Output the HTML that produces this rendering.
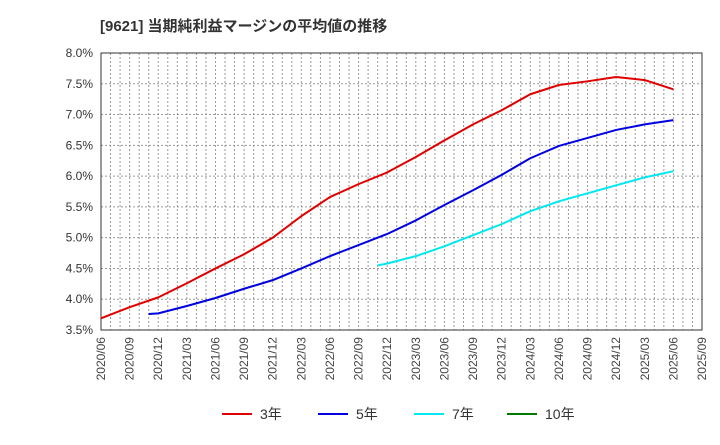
<!DOCTYPE html>
<html><head><meta charset="utf-8"><style>
body{margin:0;background:#fff;font-family:"Liberation Sans","Noto Sans CJK JP",sans-serif;}
</style></head><body>
<svg id="c" width="720" height="440" xmlns="http://www.w3.org/2000/svg">
<text x="100" y="31" font-size="15" font-weight="bold" fill="#333">[9621]  当期純利益マージンの平均値の推移</text>
</svg>
<script>
const months=["2020/06","2020/09","2020/12","2021/03","2021/06","2021/09","2021/12","2022/03","2022/06","2022/09","2022/12","2023/03","2023/06","2023/09","2023/12","2024/03","2024/06","2024/09","2024/12","2025/03","2025/06","2025/09"];
const yTicks=[3.5,4.0,4.5,5.0,5.5,6.0,6.5,7.0,7.5,8.0];
const red3Idx=[0,3,6,9,12,15,18,21,24,27,30,33,36,39,42,45,48,51,54,57,60];
const red3=[3.69,3.87,4.03,4.26,4.5,4.73,5.0,5.35,5.66,5.87,6.06,6.31,6.58,6.84,7.07,7.33,7.48,7.54,7.61,7.56,7.41];
const blue5Idx=[5,6,9,12,15,18,21,24,27,30,33,36,39,42,45,48,51,54,57,60];
const blue5=[3.76,3.77,3.89,4.02,4.17,4.31,4.5,4.7,4.88,5.06,5.28,5.53,5.77,6.02,6.29,6.49,6.62,6.75,6.84,6.91];
const cyan7Idx=[29,30,33,36,39,42,45,48,51,54,57,60];
const cyan7=[4.55,4.58,4.7,4.86,5.04,5.22,5.43,5.59,5.72,5.85,5.98,6.08];

const svg=document.getElementById('c');
const NS="http://www.w3.org/2000/svg";
const L=101,R=702,T=53,B=330,NM=63;
const x=i=>L+(R-L)*i/NM;
const y=v=>B-(v-3.5)/(8.0-3.5)*(B-T);
function mk(t,a){const e=document.createElementNS(NS,t);for(const k in a)e.setAttribute(k,a[k]);svg.appendChild(e);return e;}
for(let i=1;i<NM;i++){
 const g=mk('line',{x1:x(i),x2:x(i),y1:T,y2:B,stroke:'#999','stroke-dasharray':'2,2','stroke-width':1});
 
 
}
yTicks.forEach(v=>{
 if(v>3.5&&v<8.0){const g=mk('line',{x1:L,x2:R,y1:y(v),y2:y(v),stroke:'#999','stroke-dasharray':'2,2','stroke-width':1});
 
 }
 const t=mk('text',{x:L-8,y:y(v)+4,'text-anchor':'end','font-size':12,fill:'#333'});
 t.textContent=v.toFixed(1)+'%';
 
 
});
months.forEach((m,k)=>{
 const xx=x(k*3);
 const t=mk('text',{x:xx+4,y:337,'text-anchor':'end','font-size':12,fill:'#444',transform:`rotate(-90 ${xx+4} 337)`});
 t.textContent=m;
 
 
});
const fr=mk('rect',{x:L,y:T,width:R-L,height:B-T,fill:'none',stroke:'#333','stroke-width':1});


function series(idx,vals,col,name){
 const p=mk('polyline',{points:idx.map((i,k)=>x(i)+','+y(vals[k])).join(' '),fill:'none',stroke:col,'stroke-width':2,'stroke-linejoin':'round'});
 
 
}
series(red3Idx,red3,'#e00000','line-3yr');
series(blue5Idx,blue5,'#0000e0','line-5yr');
series(cyan7Idx,cyan7,'#00e8f0','line-7yr');
const leg=[['3年','#e00000',222],['5年','#0000e0',318],['7年','#00e8f0',414],['10年','#007a00',507]];
leg.forEach(([n,c,lx])=>{
 const l=mk('line',{x1:lx,x2:lx+30,y1:414,y2:414,stroke:c,'stroke-width':2});
 
 
 const t=mk('text',{x:lx+38,y:419,'font-size':14,fill:'#333'});
 t.textContent=n;
 
 
});
</script>
</body></html>
